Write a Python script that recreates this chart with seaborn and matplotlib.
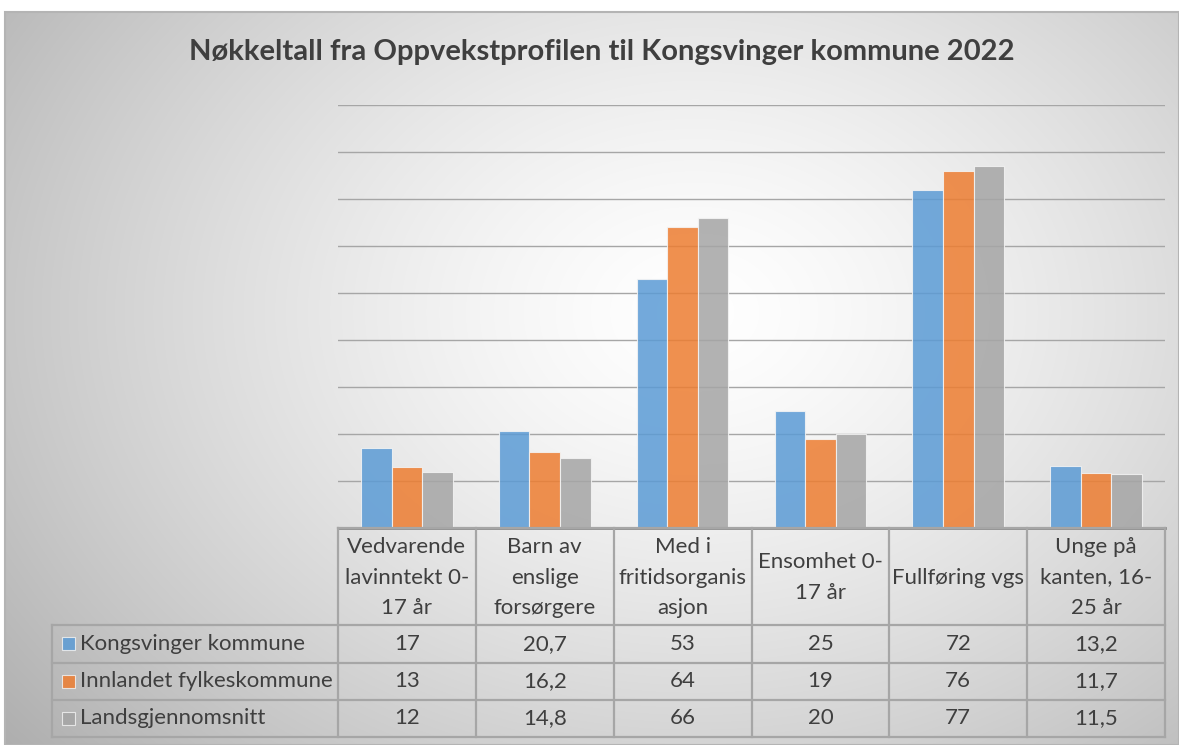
import numpy as np
import pandas as pd
import matplotlib
matplotlib.use("Agg")
import matplotlib.pyplot as plt
import seaborn as sns
from matplotlib.patches import Rectangle
from matplotlib.lines import Line2D

# ---------------- data ----------------
categories = ["Vedvarende\nlavinntekt 0-\n17 år", "Barn av\nenslige\nforsørgere",
              "Med i\nfritidsorganis\nasjon", "Ensomhet 0-\n17 år",
              "Fullføring vgs", "Unge på\nkanten, 16-\n25 år"]
series = ["Kongsvinger kommune", "Innlandet fylkeskommune", "Landsgjennomsnitt"]
kongsvinger = [17, 20.7, 53, 25, 72, 13.2]
innlandet = [13, 16.2, 64, 19, 76, 11.7]
landsgjennomsnitt = [12, 14.8, 66, 20, 77, 11.5]
yticks = list(range(0, 100, 10))
title = "Nøkkeltall fra Oppvekstprofilen til Kongsvinger kommune 2022"

colors = ["#5B9BD5", "#ED7D31", "#A5A5A5"]

values = [kongsvinger, innlandet, landsgjennomsnitt]
df = pd.DataFrame({
    "kategori": [c for _ in series for c in categories],
    "serie": [s for s in series for _ in categories],
    "verdi": [v for vals in values for v in vals],
})

FONT = ["Lato", "DejaVu Sans"]
plt.rcParams["font.family"] = FONT
TXT = "#3f3f3f"

W, H = 1179, 745
fig = plt.figure(figsize=(W / 100, H / 100), dpi=100)
fig.patch.set_facecolor("white")

def fx(px):
    return px / W

def fy(py):
    return 1 - py / H

# ---------------- background gradient ----------------
bx0, by0 = 5, 12
bg = fig.add_axes([fx(bx0), 0, 1 - fx(bx0), fy(by0)], zorder=-10)
bw, bh = W - bx0, H - by0
yy, xx = np.mgrid[0:bh, 0:bw]
cx, cy = 690, 300
d = np.sqrt(((xx - cx) / 820.0) ** 2 + ((yy - cy) / 620.0) ** 2)
val = 1.0 - 0.28 * np.clip(d, 0, 1.2) ** 1.4
img = np.dstack([val, val, val])
bg.imshow(img, aspect="auto", extent=[0, 1, 0, 1], origin="upper", interpolation="bilinear")
bg.set_xlim(0, 1)
bg.set_ylim(0, 1)
bg.axis("off")
bg.add_patch(Rectangle((0, 0), 1, 1, transform=bg.transAxes, fill=False,
                       edgecolor="#b4b4b4", linewidth=1.5, clip_on=False))

# ---------------- bar chart ----------------
px_left, px_right, px_top, px_bottom = 338, 1165, 105, 528
ax = fig.add_axes([fx(px_left), fy(px_bottom), fx(px_right - px_left), (px_bottom - px_top) / H])
ax.patch.set_alpha(0)
sns.barplot(data=df, x="kategori", y="verdi", hue="serie", palette=colors,
            saturation=1, width=0.665, alpha=0.85, edgecolor="#f4f4f4", linewidth=0.8,
            ax=ax, legend=False, zorder=3)
ax.set_ylim(0, 90)
ax.set_xlim(-0.5, len(categories) - 0.5)
ax.set_yticks(yticks)
ax.yaxis.grid(True, color="#a6a6a6", linewidth=1.0)
ax.set_axisbelow(True)
ax.tick_params(left=False, bottom=False, labelleft=False, labelbottom=False)
for s in ["top", "right", "left"]:
    ax.spines[s].set_visible(False)
ax.spines["bottom"].set_color("#8c8c8c")
ax.spines["bottom"].set_linewidth(2)
ax.set_xlabel("")
ax.set_ylabel("")

fig.text(fx(602), fy(52), title, ha="center", va="center",
         fontsize=21, fontweight="bold", color=TXT, family=FONT)

# ---------------- data table ----------------
col_w = (px_right - px_left) / len(categories)
tab_left = 52
row_edges = [528, 625, 662.5, 700, 737]
lc = "#a6a6a6"
lw = 1.6
FS = 16

def hline(y, x0, x1):
    fig.add_artist(Line2D([fx(x0), fx(x1)], [fy(y), fy(y)], color=lc, linewidth=lw))

def vline(x, y0, y1):
    fig.add_artist(Line2D([fx(x), fx(x)], [fy(y0), fy(y1)], color=lc, linewidth=lw))

hline(row_edges[0], px_left, px_right)
for y in row_edges[1:]:
    hline(y, tab_left, px_right)
vline(tab_left, row_edges[1], row_edges[-1])
for i in range(len(categories) + 1):
    vline(px_left + i * col_w, row_edges[0], row_edges[-1])

for i, cat in enumerate(categories):
    cxp = px_left + (i + 0.5) * col_w
    fig.text(fx(cxp), fy((row_edges[0] + row_edges[1]) / 2 + 1), cat, ha="center", va="center",
             fontsize=FS, color=TXT, linespacing=1.68, family=FONT)

def fmt(v):
    return (f"{v:g}").replace(".", ",")

for r, (name, vals, col) in enumerate(zip(series, values, colors)):
    yc = (row_edges[r + 1] + row_edges[r + 2]) / 2
    fig.add_artist(Rectangle((fx(62), fy(yc + 6.5)), fx(13), 13 / H, facecolor=col,
                             edgecolor="#f0f0f0", linewidth=0.8, alpha=0.85))
    fig.text(fx(80), fy(yc), name, ha="left", va="center", fontsize=FS,
             color=TXT, family=FONT)
    for i, v in enumerate(vals):
        cxp = px_left + (i + 0.5) * col_w
        fig.text(fx(cxp), fy(yc), fmt(v), ha="center", va="center", fontsize=FS,
                 color=TXT, family=FONT)

fig.savefig("out.png", dpi=100)
